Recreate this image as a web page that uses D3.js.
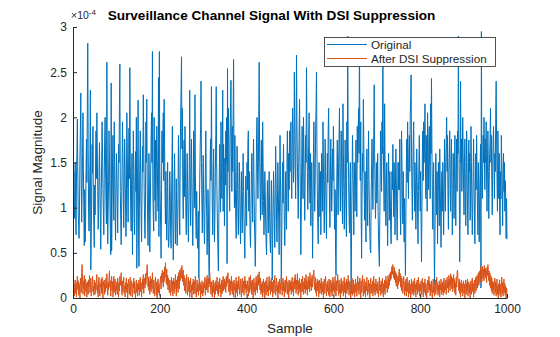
<!DOCTYPE html>
<html><head><meta charset="utf-8">
<script src="https://cdn.jsdelivr.net/npm/d3@7"></script>
<style>body{margin:0;background:#fff;}svg{display:block;font-family:"Liberation Sans",Arial,sans-serif;}</style>
</head><body><svg id="c" width="560" height="337"></svg>
<script>
// Values in units of 1e-6
const original = [
125,140,105,88,150,112,70,135,160,198,145,95,78,66,102,155,188,227,130,84,118,160,205,142,96,58,120,62,85,140,176,128,210,282,165,92,74,110,150,230,31,68,115,170,138,190,104,80,56,125,
92,148,185,132,205,160,118,76,98,140,172,125,88,54,110,150,195,168,120,95,70,132,176,200,145,108,82,261,140,60,95,130,185,150,112,75,48,238,52,100,145,180,122,86,195,150,98,64,118,160,
140,105,72,128,170,150,212,259,118,86,59,96,142,195,160,110,78,130,176,145,102,68,90,205,166,120,84,140,188,132,255,150,98,74,126,160,48,110,185,140,92,70,128,162,118,200,33,88,145,219,
72,35,98,150,185,130,92,62,115,168,140,225,176,118,84,66,105,195,150,220,128,80,58,110,160,124,51,95,140,176,205,150,273,118,90,74,200,138,108,175,85,140,190,155,120,96,244,68,273,145,
110,78,44,120,185,150,172,205,130,220,176,118,82,140,98,64,110,150,88,56,60,96,140,118,72,55,104,150,190,82,42,68,125,160,110,60,85,132,98,58,76,118,180,140,95,70,150,200,230,267,
165,210,120,88,140,175,112,190,148,96,70,118,160,130,84,62,105,150,230,112,80,140,176,128,92,58,110,185,150,100,225,140,90,66,118,82,55,65,96,22,88,130,165,190,240,150,104,72,120,158,
115,80,60,98,140,185,128,90,48,72,120,96,40,16,85,150,176,130,234,150,100,70,125,165,110,62,92,140,180,234,150,105,76,52,30,88,135,170,120,95,195,140,110,150,230,96,170,130,80,155,
125,185,150,200,38,254,140,210,176,120,96,175,215,241,160,118,190,140,205,264,150,100,180,130,88,66,120,168,140,92,70,110,150,128,84,60,105,140,95,72,118,160,125,86,60,44,98,135,110,80,
150,120,170,185,96,140,110,72,56,92,135,160,118,84,150,176,130,88,62,35,70,125,180,200,150,110,140,200,261,160,118,86,140,175,120,92,195,150,108,70,96,140,118,82,60,48,92,130,100,72,
110,140,96,64,50,88,130,108,20,60,98,140,115,78,56,120,168,130,86,62,100,150,120,82,48,110,180,136,90,16,70,118,150,105,170,124,80,58,96,140,118,76,150,185,130,96,160,120,185,140,
175,195,140,110,160,210,180,128,150,250,200,145,110,176,269,196,150,120,88,140,185,220,160,105,48,96,150,190,140,110,200,168,120,86,135,180,150,255,190,140,98,125,170,205,140,105,160,80,118,150,
110,44,90,160,195,140,96,130,185,210,250,170,120,82,60,110,150,128,90,140,70,110,160,136,96,195,150,105,72,130,176,140,98,66,120,160,128,185,210,150,104,78,130,176,140,96,118,165,130,190,
150,100,76,120,52,25,88,140,175,118,92,150,176,210,130,96,140,185,150,108,82,215,160,120,76,110,175,140,96,68,195,150,290,170,130,96,72,118,150,60,5,84,130,180,140,110,70,150,125,96,
140,175,120,90,190,150,176,210,160,285,185,130,195,92,44,110,160,140,220,176,120,86,140,110,62,130,165,118,80,150,185,130,96,70,54,50,112,150,176,130,98,140,180,236,160,118,88,120,150,105,
120,160,96,66,48,35,92,150,185,140,118,195,160,280,170,128,96,215,150,110,80,125,150,92,58,110,160,130,86,140,118,76,60,100,140,120,170,130,90,150,110,70,125,165,132,92,64,110,150,120,
150,120,176,96,70,115,185,150,105,82,140,96,62,110,68,25,90,140,176,128,195,150,110,160,180,140,200,220,247,160,118,86,140,175,195,130,96,150,120,76,110,165,130,92,60,118,150,180,130,96,
140,88,40,96,160,185,130,195,150,176,215,150,110,180,140,96,205,160,120,176,190,140,110,215,160,243,170,110,76,135,150,62,16,70,118,160,130,92,140,60,110,150,118,80,165,130,96,56,110,140,
96,150,120,70,110,176,130,96,150,176,200,140,180,110,76,140,160,185,120,96,150,176,120,70,105,160,130,88,150,180,120,80,140,176,118,185,160,290,176,130,40,96,240,150,176,118,150,200,160,120,
92,150,176,118,80,130,185,150,96,70,120,175,140,160,86,110,190,150,105,70,96,140,176,130,92,60,118,160,120,180,140,98,70,150,118,62,110,140,170,11,295,150,110,140,180,150,200,160,120,176,
150,195,130,96,150,185,140,88,130,160,176,210,150,180,130,92,140,176,190,150,110,160,140,200,240,176,130,96,185,150,110,160,96,70,140,110,180,150,120,80,140,160,118,150,96,130,110,66,110,65
];
const suppressed = [
8,15,2,12,20,5,17,1,14,24,9,19,3,16,11,0,22,13,6,28,37,18,4,19,10,25,2,14,21,7,16,1,18,11,4,20,13,25,6,15,22,2,9,18,24,7,13,3,20,11,
4,17,9,22,26,6,14,1,19,23,8,2,16,12,21,5,23,10,0,18,13,20,4,15,7,22,11,27,14,3,17,9,22,30,12,19,2,15,24,8,18,1,10,24,6,16,21,3,13,9,
18,4,22,11,1,17,8,24,14,20,28,10,3,19,7,15,23,5,13,1,17,10,22,6,16,0,12,21,9,4,18,23,2,14,19,8,1,16,11,22,5,18,9,0,13,20,6,15,2,17,
9,20,3,14,23,7,17,1,12,21,10,26,5,16,22,11,27,15,24,30,37,22,12,23,8,19,4,24,13,7,21,10,28,16,5,20,12,2,17,23,9,3,18,0,14,21,6,16,3,12,
19,24,10,27,17,31,22,12,29,18,34,23,39,26,16,32,14,25,9,22,15,6,20,11,3,17,23,7,19,2,14,22,5,18,10,26,13,2,20,11,24,6,28,15,10,31,19,26,33,22,
36,26,18,31,14,25,8,22,13,5,20,26,9,3,18,23,7,19,1,15,22,6,14,0,17,9,21,4,13,19,5,24,11,1,12,20,7,16,3,13,22,8,17,0,14,5,19,10,2,16,
6,18,11,23,3,15,21,9,25,14,6,22,12,19,28,21,11,4,18,9,1,15,20,6,17,0,13,4,19,8,16,23,5,14,2,18,10,22,6,15,1,13,20,5,17,24,8,14,21,10,
18,6,23,13,25,17,28,12,7,21,11,3,19,8,24,14,4,18,10,1,20,9,16,0,14,23,6,15,2,19,10,24,14,4,13,21,8,1,16,22,6,14,19,3,11,24,10,19,5,15,
8,19,11,2,16,23,6,14,25,9,18,4,20,13,0,13,22,7,17,3,14,24,9,19,6,26,14,21,29,16,9,22,4,15,7,18,1,14,21,6,17,0,11,19,3,15,23,7,13,2,
17,24,9,19,4,14,22,7,18,1,12,20,5,15,25,10,3,17,22,7,14,0,18,6,13,21,4,16,9,25,15,3,14,22,8,18,1,13,20,6,16,24,9,4,18,12,0,20,7,16,
9,19,4,15,23,7,18,2,14,22,10,26,14,5,20,9,27,13,3,19,10,22,6,16,0,14,21,7,24,13,4,18,10,22,5,16,26,9,19,3,15,24,10,20,7,28,13,22,8,19,
25,12,21,28,31,18,9,23,6,17,2,15,21,8,19,1,14,20,5,16,10,22,4,15,7,18,0,13,21,5,15,24,9,2,16,7,19,12,3,21,10,1,15,20,6,17,2,14,23,8,
18,5,15,24,10,2,19,8,16,26,11,3,20,6,16,0,14,22,5,15,8,19,2,13,23,6,17,0,14,21,5,18,9,25,13,3,12,19,6,0,16,8,22,3,14,20,5,15,1,13,
21,6,16,2,14,24,8,18,4,15,22,10,0,19,6,16,25,9,2,15,21,5,14,1,18,8,23,13,3,13,20,6,16,0,14,22,5,15,8,19,2,13,24,6,16,3,14,21,8,15,
5,18,10,1,16,23,8,15,3,19,12,5,22,10,1,16,8,20,4,15,24,11,19,6,16,25,10,21,14,27,19,29,21,31,35,26,37,29,22,34,20,30,17,28,13,26,19,10,24,15,
29,32,18,27,12,24,8,22,14,5,19,24,11,3,18,8,21,2,16,23,7,17,1,14,20,5,15,0,13,21,4,16,7,19,3,14,22,6,15,1,17,9,20,4,14,23,7,16,2,15,
8,19,4,15,22,10,1,17,6,14,21,3,16,8,0,15,20,6,14,24,9,18,2,15,7,19,4,0,14,21,6,16,2,13,20,4,15,23,8,17,3,14,6,19,1,15,9,21,4,16,
7,18,3,15,22,6,16,9,20,4,14,23,11,19,6,25,13,21,8,27,15,24,10,22,7,19,26,11,21,5,17,3,23,12,28,31,22,16,8,21,5,17,1,15,20,6,16,2,14,19,
5,15,0,13,20,4,16,8,21,2,14,18,5,15,0,13,19,4,14,22,7,16,1,15,20,5,14,23,8,17,25,11,21,28,14,24,30,17,34,22,31,18,27,35,21,32,19,36,25,33,
22,31,17,34,25,37,28,19,30,14,27,11,24,8,22,5,19,9,17,3,16,22,6,18,2,15,21,4,14,0,16,7,20,3,15,1,13,23,5,17,2,14,21,6,16,3,13,0,11,5
];
const seriesNames = ["Original", "After DSI Suppression"];
const seriesColors = ["#0072BD", "#D95319"];
const xTicks = [0, 200, 400, 600, 800, 1000];
const xTickLabels = ["0", "200", "400", "600", "800", "1000"];
const yTicks = [0, 0.5e-4, 1e-4, 1.5e-4, 2e-4, 2.5e-4, 3e-4];
const yTickLabels = ["0", "0.5", "1", "1.5", "2", "2.5", "3"];
const titleText = "Surveillance Channel Signal With DSI Suppression";
const xLabel = "Sample";
const yLabel = "Signal Magnitude";

const svg = d3.select("#c");
const L = 73, R = 507, T = 27, B = 298;
const x = d3.scaleLinear().domain([0, 1000]).range([L, R]);
const y = d3.scaleLinear().domain([0, 3e-4]).range([B, T]);
const ink = "#262626";

const series = [original, suppressed].map(arr => arr.map((v, i) => ({s: i + 1, v: v * 1e-6})));
const line = d3.line().x(d => x(d.s)).y(d => y(d.v));
series.forEach((data, k) => {
  svg.append("path").datum(data).attr("d", line)
    .attr("fill", "none").attr("stroke", seriesColors[k]).attr("stroke-width", 1)
    .attr("stroke-linejoin", "round");
});

const xAxis = d3.axisBottom(x).tickValues(xTicks).tickFormat((d, i) => xTickLabels[i]).tickSizeInner(-4).tickSizeOuter(0).tickPadding(6);
const gx = svg.append("g").attr("transform", `translate(0,${B})`).call(xAxis);
const yAxis = d3.axisLeft(y).tickValues(yTicks).tickFormat((d, i) => yTickLabels[i]).tickSizeInner(-4).tickSizeOuter(0).tickPadding(6);
const gy = svg.append("g").attr("transform", `translate(${L},0)`).call(yAxis);
[gx, gy].forEach(g => {
  g.select(".domain").attr("stroke", ink).attr("stroke-width", 1);
  g.selectAll(".tick line").attr("stroke", ink);
  g.selectAll(".tick text").attr("fill", ink).style("font-size", "12px").style("font-family", '"Liberation Sans",Arial,sans-serif');
});

svg.append("text").attr("x", 71).attr("y", 19).attr("fill", ink).style("font-size", "10.5px")
  .text("×10").append("tspan").attr("dy", -4).style("font-size", "8px").text("-4");

svg.append("text").attr("x", 271.5).attr("y", 19.5).attr("text-anchor", "middle").attr("fill", "#000")
  .style("font-size", "13.6px").style("font-weight", "bold").text(titleText);
svg.append("text").attr("x", (L + R) / 2).attr("y", 333).attr("text-anchor", "middle").attr("fill", ink)
  .style("font-size", "13.5px").text(xLabel);
svg.append("text").attr("transform", `translate(42,${(T + B) / 2}) rotate(-90)`).attr("text-anchor", "middle").attr("fill", ink)
  .style("font-size", "13.5px").text(yLabel);

const lg = svg.append("g");
lg.append("rect").attr("x", 324.5).attr("y", 37.5).attr("width", 171).attr("height", 29)
  .attr("fill", "#fff").attr("stroke", ink).attr("stroke-width", 0.8);
seriesNames.forEach((n, k) => {
  const yy = 44.5 + k * 14;
  lg.append("line").attr("x1", 327).attr("x2", 367).attr("y1", yy).attr("y2", yy)
    .attr("stroke", seriesColors[k]).attr("stroke-width", 1);
  lg.append("text").attr("x", 371).attr("y", yy + 4.2).attr("fill", ink).style("font-size", "11.7px").text(n);
});
</script></body></html>
